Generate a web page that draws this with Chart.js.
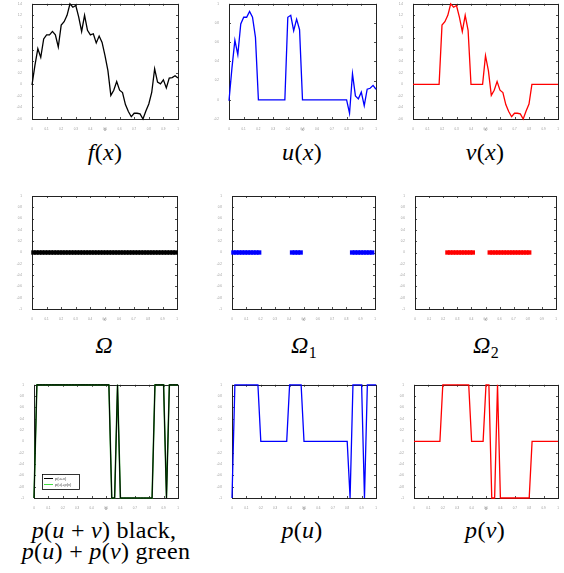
<!DOCTYPE html>
<html>
<head>
<meta charset="utf-8">
<script src="https://cdn.jsdelivr.net/npm/chart.js@4.4.0/dist/chart.umd.min.js"></script>
<style>
  body { margin: 0; background: #fff; }
  #wrap { position: relative; width: 564px; height: 573px; overflow: hidden; }
  canvas { position: absolute; }
  .cap { position: absolute; font-family: "Liberation Serif", "DejaVu Serif", serif; font-size: 24px; color: #000; text-align: center; white-space: nowrap; line-height: 22px; letter-spacing: 0.3px; }
  .cap i { font-style: italic; }
  .cap sub { font-size: 16px; vertical-align: -5px; line-height: 0; }
</style>
</head>
<body>
<div id="wrap"></div>
<script>
// grid along x
const xs = [0, 0.02, 0.04, 0.06, 0.08, 0.1, 0.12, 0.14, 0.16, 0.18, 0.2, 0.22, 0.24, 0.26, 0.28, 0.3, 0.32, 0.34, 0.36, 0.38, 0.4,
  0.42, 0.44, 0.46, 0.48, 0.5, 0.52, 0.54, 0.56, 0.58, 0.6, 0.62, 0.64, 0.66, 0.68, 0.7, 0.72, 0.74, 0.76, 0.78, 0.8,
  0.82, 0.84, 0.86, 0.88, 0.9, 0.92, 0.94, 0.96, 0.98, 1];

const fVals = [-0.01, 0.33, 0.62, 0.47, 0.79, 0.86, 0.86, 0.92, 0.86, 0.65, 1.03, 1.09, 1.2, 1.4, 1.34, 1.37, 1.17, 0.92, 1.2, 0.94, 0.86,
  0.88, 0.72, 0.84, 0.73, 0.5, 0.24, -0.19, -0.1, 0.05, -0.1, -0.14, -0.35, -0.47, -0.56, -0.5, -0.5, -0.51, -0.6, -0.46, -0.34,
  -0.14, 0.27, 0.04, 0.01, 0.08, -0.06, 0.11, 0.12, 0.15, 0.11];

const uVals = [-0.01, 0.33, 0.62, 0.47, 0.79, 0.86, 0.86, 0.92, 0.86, 0.65, 0, 0, 0, 0, 0, 0, 0, 0, 0, 0, 0.86,
  0.88, 0.72, 0.84, 0.73, 0, 0, 0, 0, 0, 0, 0, 0, 0, 0, 0, 0, 0, 0, 0, 0,
  -0.14, 0.27, 0.04, 0.01, 0.08, -0.06, 0.11, 0.12, 0.15, 0.11];

const vVals = [0, 0, 0, 0, 0, 0, 0, 0, 0, 0, 1.03, 1.09, 1.2, 1.4, 1.34, 1.37, 1.17, 0.92, 1.2, 0.94, 0,
  0, 0, 0, 0, 0.5, 0.24, -0.19, -0.1, 0.05, -0.1, -0.14, -0.35, -0.47, -0.56, -0.5, -0.5, -0.51, -0.6, -0.46, -0.34,
  0, 0, 0, 0, 0, 0, 0, 0, 0, 0];

const pUV = [-1, 1, 1, 1, 1, 1, 1, 1, 1, 1, 1, 1, 1, 1, 1, 1, 1, 1, 1, 1, 1,
  1, 1, 1, 1, 1, 1, -1, -1, 1, -1, -1, -1, -1, -1, -1, -1, -1, -1, -1, -1,
  -1, 1, 1, 1, 1, -1, 1, 1, 1, 1];

const pU = [-1, 1, 1, 1, 1, 1, 1, 1, 1, 1, 0, 0, 0, 0, 0, 0, 0, 0, 0, 0, 1,
  1, 1, 1, 1, 0, 0, 0, 0, 0, 0, 0, 0, 0, 0, 0, 0, 0, 0, 0, 0,
  -1, 1, 1, 1, 1, -1, 1, 1, 1, 1];

const pV = [0, 0, 0, 0, 0, 0, 0, 0, 0, 0, 1, 1, 1, 1, 1, 1, 1, 1, 1, 1, 0,
  0, 0, 0, 0, 1, 1, -1, -1, 1, -1, -1, -1, -1, -1, -1, -1, -1, -1, -1, -1,
  0, 0, 0, 0, 0, 0, 0, 0, 0, 0];

// domain marker positions
const omegaX = [0.01, 0.03, 0.05, 0.07, 0.09, 0.11, 0.13, 0.15, 0.17, 0.19, 0.21, 0.23, 0.25, 0.27, 0.29, 0.31, 0.33, 0.35, 0.37, 0.39,
  0.41, 0.43, 0.45, 0.47, 0.49, 0.51, 0.53, 0.55, 0.57, 0.59, 0.61, 0.63, 0.65, 0.67, 0.69, 0.71, 0.73, 0.75, 0.77, 0.79,
  0.81, 0.83, 0.85, 0.87, 0.89, 0.91, 0.93, 0.95, 0.97, 0.99];
const omega1X = [0.01, 0.03, 0.05, 0.07, 0.09, 0.11, 0.13, 0.15, 0.17, 0.19, 0.42, 0.44, 0.46, 0.48,
  0.84, 0.86, 0.88, 0.9, 0.92, 0.94, 0.96, 0.98];
const omega2X = [0.23, 0.25, 0.27, 0.29, 0.31, 0.33, 0.35, 0.37, 0.39, 0.41,
  0.53, 0.55, 0.57, 0.59, 0.61, 0.63, 0.65, 0.67, 0.69, 0.71, 0.73, 0.75, 0.77, 0.79, 0.81];

const L = 16, R = 3, T = 3, B = 13;

function pts(xv, yv) { return xv.map((x, i) => ({ x: x, y: yv[i] })); }
function flat(xv) { return xv.map(x => ({ x: x, y: 0 })); }

const frameTicks = {
  id: 'frameTicks',
  beforeDatasetsDraw(chart) {
    const ctx = chart.ctx, a = chart.chartArea;
    const sx = chart.scales.x, sy = chart.scales.y;
    ctx.save();
    ctx.strokeStyle = '#222';
    ctx.lineWidth = 0.8;
    ctx.beginPath();
    sx.ticks.forEach(t => {
      const p = Math.round(sx.getPixelForValue(t.value)) + 0.5;
      ctx.moveTo(p, a.bottom); ctx.lineTo(p, a.bottom - 2);
      ctx.moveTo(p, a.top); ctx.lineTo(p, a.top + 2);
    });
    sy.ticks.forEach(t => {
      const p = Math.round(sy.getPixelForValue(t.value)) + 0.5;
      ctx.moveTo(a.left, p); ctx.lineTo(a.left + 2, p);
      ctx.moveTo(a.right, p); ctx.lineTo(a.right - 2, p);
    });
    ctx.stroke();
    ctx.lineWidth = 1;
    ctx.strokeRect(Math.round(a.left) + 0.5, Math.round(a.top) + 0.5, Math.round(a.right - a.left), Math.round(a.bottom - a.top));
    ctx.restore();
  }
};

const boxLegend = {
  id: 'boxLegend',
  afterDatasetsDraw(chart, args, opts) {
    if (!opts.items) return;
    const ctx = chart.ctx, a = chart.chartArea;
    const x0 = a.left + 8, y0 = a.bottom - 24, w = 37, h = 15;
    ctx.save();
    ctx.fillStyle = '#fff';
    ctx.fillRect(x0, y0, w, h);
    ctx.strokeStyle = '#000';
    ctx.lineWidth = 0.8;
    ctx.strokeRect(x0 + 0.5, y0 + 0.5, w, h);
    ctx.font = '4px "Liberation Sans", sans-serif';
    ctx.textBaseline = 'middle';
    opts.items.forEach((it, i) => {
      const yy = y0 + 4.5 + i * 6;
      ctx.strokeStyle = it.color;
      ctx.lineWidth = 1;
      ctx.beginPath(); ctx.moveTo(x0 + 2, yy); ctx.lineTo(x0 + 11, yy); ctx.stroke();
      ctx.fillStyle = '#444';
      ctx.fillText(it.text, x0 + 13, yy);
    });
    ctx.restore();
  }
};

function fmt(v) { return String(+v.toFixed(2)); }

function makePanel(p) {
  const c = document.createElement('canvas');
  const W = p.w + L + R, H = p.h + T + B;
  c.width = W; c.height = H;
  c.style.left = (p.left - L) + 'px';
  c.style.top = (p.top - T) + 'px';
  c.style.width = W + 'px'; c.style.height = H + 'px';
  document.getElementById('wrap').appendChild(c);
  new Chart(c.getContext('2d'), {
    type: 'line',
    data: { datasets: p.datasets },
    options: {
      responsive: false,
      animation: false,
      devicePixelRatio: 1,
      layout: { padding: { top: T, right: R, left: 0, bottom: 0 } },
      plugins: { legend: { display: false }, tooltip: { enabled: false }, boxLegend: { items: p.legend } },
      elements: { line: { tension: 0 } },
      scales: {
        x: {
          type: 'linear', min: 0, max: 1,
          ticks: { stepSize: 0.1, font: { size: 3 }, color: '#999', padding: 0, maxRotation: 0, autoSkip: false, callback: fmt },
          grid: { display: false }, border: { display: false },
          title: { display: true, text: 'x', font: { size: 4.5 }, color: '#777', padding: { top: 1, bottom: 0 } },
          afterFit: s => { s.height = B; }
        },
        y: {
          min: p.ymin, max: p.ymax,
          ticks: { stepSize: 0.2, font: { size: 3 }, color: '#999', padding: 2, autoSkip: false, callback: fmt },
          grid: { display: false }, border: { display: false },
          afterFit: s => { s.width = L; }
        }
      }
    },
    plugins: [frameTicks, boxLegend]
  });
}

function lineSet(data, color, width) {
  return { data: data, borderColor: color, borderWidth: width || 1.3, pointRadius: 0, fill: false, clip: false };
}
function dotSet(data, color) {
  return { data: data, showLine: false, pointStyle: 'rect', pointRadius: 3.1, pointBorderWidth: 0,
           pointBackgroundColor: color, borderColor: color, clip: false };
}

const panels = [
  { left: 32, top: 3, w: 146, h: 116, ymin: -0.6, ymax: 1.4, datasets: [lineSet(pts(xs, fVals), '#000')] },
  { left: 229, top: 3, w: 147, h: 116, ymin: -0.2, ymax: 1.0, datasets: [lineSet(pts(xs, uVals), '#0000ff')] },
  { left: 413, top: 3, w: 145, h: 116, ymin: -0.6, ymax: 1.4, datasets: [lineSet(pts(xs, vVals), '#ff0000')] },
  { left: 32, top: 195, w: 146, h: 114, ymin: -1, ymax: 1, datasets: [dotSet(flat(omegaX), '#000')] },
  { left: 232, top: 195, w: 144, h: 114, ymin: -1, ymax: 1, datasets: [dotSet(flat(omega1X), '#0000ff')] },
  { left: 415, top: 195, w: 142, h: 114, ymin: -1, ymax: 1, datasets: [dotSet(flat(omega2X), '#ff0000')] },
  { left: 34, top: 384, w: 144, h: 114, ymin: -1, ymax: 1,
    datasets: [lineSet(pts(xs, pUV), '#000', 1.0), lineSet(pts(xs, pUV), '#168f16', 1.5)],
    legend: [{ text: 'p(u+v)', color: '#000' }, { text: 'p(u)+p(v)', color: '#44dd44' }] },
  { left: 232, top: 384, w: 144, h: 114, ymin: -1, ymax: 1, datasets: [lineSet(pts(xs, pU), '#0000ff')] },
  { left: 414, top: 384, w: 144, h: 114, ymin: -1, ymax: 1, datasets: [lineSet(pts(xs, pV), '#ff0000')] }
];
panels.forEach(makePanel);

const captions = [
  { cx: 105, cy: 152, html: '<i>f</i>(<i>x</i>)' },
  { cx: 302, cy: 152, html: '<i>u</i>(<i>x</i>)' },
  { cx: 485, cy: 152, html: '<i>v</i>(<i>x</i>)' },
  { cx: 104, cy: 345, html: '<i>&Omega;</i>' },
  { cx: 304, cy: 345, html: '<i>&Omega;</i><sub>1</sub>' },
  { cx: 486, cy: 345, html: '<i>&Omega;</i><sub>2</sub>' },
  { cx: 104, cy: 530, html: '<i>p</i>(<i>u</i> + <i>v</i>) black,' },
  { cx: 106, cy: 551, html: '<i>p</i>(<i>u</i>) + <i>p</i>(<i>v</i>) green' },
  { cx: 302, cy: 530, html: '<i>p</i>(<i>u</i>)' },
  { cx: 485, cy: 530, html: '<i>p</i>(<i>v</i>)' }
];
captions.forEach(cp => {
  const d = document.createElement('div');
  d.className = 'cap';
  d.innerHTML = cp.html;
  d.style.left = (cp.cx - 150) + 'px';
  d.style.width = '300px';
  d.style.top = (cp.cy - 11) + 'px';
  document.getElementById('wrap').appendChild(d);
});
</script>
</body>
</html>
